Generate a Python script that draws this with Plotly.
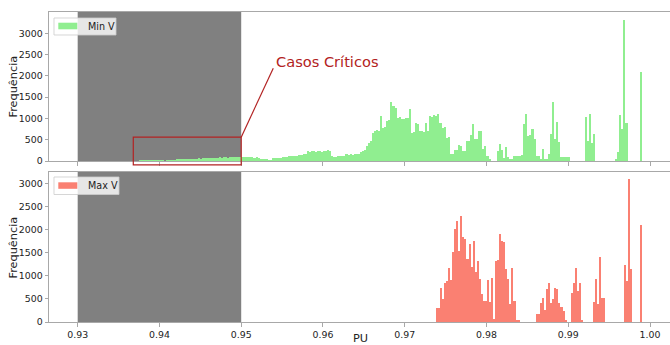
import plotly.graph_objects as go

# ---------------- data ----------------
BIN_W = 0.00025
MINV_START = 0.937
MAXV_START = 0.9738

minv_counts = [
    0, 0, 5, 15, 10, 20, 10, 15, 5, 10,
    15, 10, 20, 5, 0, 10, 15, 5, 10, 20,
    30, 40, 45, 40, 50, 45, 55, 40, 50, 55,
    50, 60, 55, 70, 65, 60, 75, 70, 80, 65,
    70, 85, 80, 90, 95, 75, 90, 100, 85, 90,
    90, 95, 100, 95, 90, 85, 95, 90, 80, 85,
    60, 55, 50, 45, 30, 15, 20, 60, 70, 65,
    75, 80, 95, 100, 95, 110, 115, 120, 110, 125,
    140, 150, 170, 165, 230, 220, 235, 225, 210, 230,
    230, 220, 240, 225, 265, 230, 110, 100, 105, 115,
    117, 120, 117, 157, 150, 160, 150, 170, 160, 165,
    220, 240, 250, 350, 420, 470, 650, 700, 720, 700,
    1060, 780, 800, 940, 960, 1390, 1290, 1250, 1020, 1030,
    980, 990, 1000, 1000, 1210, 660, 670, 900, 880, 700,
    700, 690, 900, 700, 1060, 1040, 1070, 1060, 1100, 900,
    780, 800, 550, 560, 157, 160, 250, 250, 370, 360,
    235, 240, 470, 480, 620, 860, 510, 520, 700, 700,
    275, 350, 117, 30, 0, 0, 0, 235, 390, 270,
    78, 340, 100, 40, 40, 117, 120, 117, 125, 130,
    861, 1096, 587, 600, 760, 525, 117, 117, 39, 274,
    39, 39, 157, 626, 1386, 509, 916, 446, 102, 102,
    100, 100, 100, 0, 0, 0, 0, 0, 0, 0,
    1041, 470, 1112, 431, 626, 0, 0, 0, 0, 0,
    0, 0, 0, 0, 0, 39, 210, 1073, 744, 3312,
    885, 0, 0, 0, 0, 0, 0, 2091, 0, 0,
]

maxv_counts = [
    312, 312, 747, 493, 855, 892, 1160, 913, 1508, 2015,
    2197, 1544, 2305, 1834, 1798, 1363, 1690, 1182, 1762, 1073,
    1327, 928, 602, 457, 457, 913, 435, 964, 58, 1327,
    1348, 1907, 1762, 1725, 1146, 928, 384, 1167, 457, 36,
    36, 0, 0, 0, 0, 0, 0, 0, 0, 167,
    167, 420, 529, 261, 710, 855, 420, 493, 747, 710,
    420, 333, 239, 36, 0, 0, 623, 855, 1160, 674,
    855, 43, 0, 0, 0, 0, 0, 435, 942, 399,
    1399, 529, 520, 0, 0, 0, 0, 0, 0, 0,
    0, 0, 1232, 892, 3088, 1146, 0, 0, 0, 0,
    2110,
]

x_ticks = [0.93, 0.94, 0.95, 0.96, 0.97, 0.98, 0.99, 1.00]
x_tick_labels = ["0.93", "0.94", "0.95", "0.96", "0.97", "0.98", "0.99", "1.00"]
y_ticks = [0, 500, 1000, 1500, 2000, 2500, 3000]
critical_span = [0.93, 0.95]
critical_box = [0.9368, 0.95, -90, 560]
series_names = ["Min V", "Max V"]

# ---------------- layout geometry ----------------
W, H = 670, 345
ML, MR, MT, MB = 49, 0, 12, 23
XR = [0.926491, 1.002445]
Y1R = [0, 3500]
Y2R = [0, 3250]
PH = H - MT - MB
PW = W - ML - MR
DOM1 = [(H - MB - 161) / PH, 1.0]
DOM2 = [0.0, (H - MB - 172) / PH]

GREEN = "#90ee90"
SALMON = "#fa8072"
SPINE = "#a8a8a8"
RED = "#b22222"
FONT = "DejaVu Sans"


def px2paper_x(px):
    return (px - ML) / PW


def px2paper_y(py):
    return (H - MB - py) / PH


def data2paper_x(v):
    return (v - XR[0]) / (XR[1] - XR[0])


def data2paper_y_top(v):
    return DOM1[0] + (v - Y1R[0]) / (Y1R[1] - Y1R[0]) * (DOM1[1] - DOM1[0])


minv_x = [MINV_START + BIN_W * (i + 0.5) for i in range(len(minv_counts))]
maxv_x = [MAXV_START + BIN_W * (i + 0.5) for i in range(len(maxv_counts))]

fig = go.Figure()
fig.add_trace(go.Bar(x=minv_x, y=minv_counts, width=BIN_W, name=series_names[0],
                     marker=dict(color=GREEN, line=dict(width=0)),
                     xaxis="x", yaxis="y", showlegend=False))
fig.add_trace(go.Bar(x=maxv_x, y=maxv_counts, width=BIN_W, name=series_names[1],
                     marker=dict(color=SALMON, line=dict(width=0)),
                     xaxis="x2", yaxis="y2", showlegend=False))

tickfont = dict(family=FONT, size=9.4, color="#222")
common_x = dict(range=XR, tickvals=x_ticks, ticktext=x_tick_labels, ticks="outside",
                ticklen=3.5, tickwidth=1, tickcolor=SPINE, showline=True, linecolor=SPINE,
                linewidth=1, mirror=True, showgrid=False, zeroline=False, tickfont=tickfont,
                automargin=False)
common_y = dict(tickvals=y_ticks, ticks="outside", ticklen=3.5, tickwidth=1, tickcolor=SPINE,
                showline=True, linecolor=SPINE, linewidth=1, showgrid=False, zeroline=False,
                tickfont=tickfont, automargin=False)

fig.update_layout(
    width=W, height=H,
    margin=dict(l=ML, r=MR, t=MT, b=MB, pad=0),
    paper_bgcolor="white", plot_bgcolor="white",
    bargap=0, barmode="overlay",
    showlegend=False,
    xaxis=dict(domain=[0, 1], anchor="y", showticklabels=False, **common_x),
    xaxis2=dict(domain=[0, 1], anchor="y2", matches="x", showticklabels=True, **common_x),
    yaxis=dict(domain=DOM1, anchor="x", range=Y1R, **common_y),
    yaxis2=dict(domain=DOM2, anchor="x2", range=Y2R, **common_y),
    font=dict(family=FONT),
)

shapes = []
# shaded critical region in both panels
for xr, yr in (("x", "y domain"), ("x2", "y2 domain")):
    shapes.append(dict(type="rect", xref=xr, yref=yr, x0=critical_span[0], x1=critical_span[1],
                       y0=0, y1=1, fillcolor="#808080", line=dict(width=0), layer="below"))

# critical-cases box + leader line (paper coords computed from data)
bx0, bx1, by0, by1 = critical_box
shapes.append(dict(type="rect", xref="paper", yref="paper",
                   x0=data2paper_x(bx0), x1=data2paper_x(bx1),
                   y0=data2paper_y_top(by0), y1=data2paper_y_top(by1),
                   line=dict(color=RED, width=1.2), fillcolor="rgba(0,0,0,0)", layer="above"))
text_x, text_y = 0.95395, 2330
line_end_x, line_end_y = 0.95392, 2180
shapes.append(dict(type="line", xref="paper", yref="paper",
                   x0=data2paper_x(bx1), y0=data2paper_y_top(by1),
                   x1=data2paper_x(line_end_x), y1=data2paper_y_top(line_end_y),
                   line=dict(color=RED, width=1.2), layer="above"))

annotations = [
    dict(text="Casos Críticos", xref="paper", yref="paper",
         x=data2paper_x(text_x), y=data2paper_y_top(text_y), xanchor="left", yanchor="middle",
         showarrow=False, font=dict(family=FONT, size=14.6, color=RED)),
]

# manual legends (matplotlib style)
legend_specs = [
    (series_names[0], GREEN, (54, 116, 18, 35), (58.3, 77.3, 22.7, 29.3), (85.5, 26.5)),
    (series_names[1], SALMON, (54, 119, 177, 194.5), (58.3, 77.3, 182.3, 188.8), (85.5, 185.8)),
]
for name, col, box, patch, txt in legend_specs:
    shapes.append(dict(type="rect", xref="paper", yref="paper",
                       x0=px2paper_x(box[0]), x1=px2paper_x(box[1]),
                       y0=px2paper_y(box[3]), y1=px2paper_y(box[2]),
                       fillcolor="rgba(255,255,255,0.8)", line=dict(color="rgba(204,204,204,0.8)", width=1),
                       layer="above"))
    shapes.append(dict(type="rect", xref="paper", yref="paper",
                       x0=px2paper_x(patch[0]), x1=px2paper_x(patch[1]),
                       y0=px2paper_y(patch[3]), y1=px2paper_y(patch[2]),
                       fillcolor=col, line=dict(width=0), layer="above"))
    annotations.append(dict(text=name, xref="paper", yref="paper",
                            x=px2paper_x(txt[0]), y=px2paper_y(txt[1]),
                            xanchor="left", yanchor="middle", showarrow=False,
                            font=dict(family=FONT, size=9.6, color="#222")))

# axis titles
labfont = dict(family=FONT, size=11.3, color="#222")
for cy in (86.5, 247.5):
    annotations.append(dict(text="Frequência", xref="paper", yref="paper",
                            x=px2paper_x(13), y=px2paper_y(cy), textangle=-90,
                            xanchor="center", yanchor="middle", showarrow=False, font=labfont))
annotations.append(dict(text="PU", xref="paper", yref="paper",
                        x=px2paper_x(360), y=px2paper_y(338.5),
                        xanchor="center", yanchor="middle", showarrow=False, font=labfont))

fig.update_layout(shapes=shapes, annotations=annotations)
fig.write_html("out.html")
